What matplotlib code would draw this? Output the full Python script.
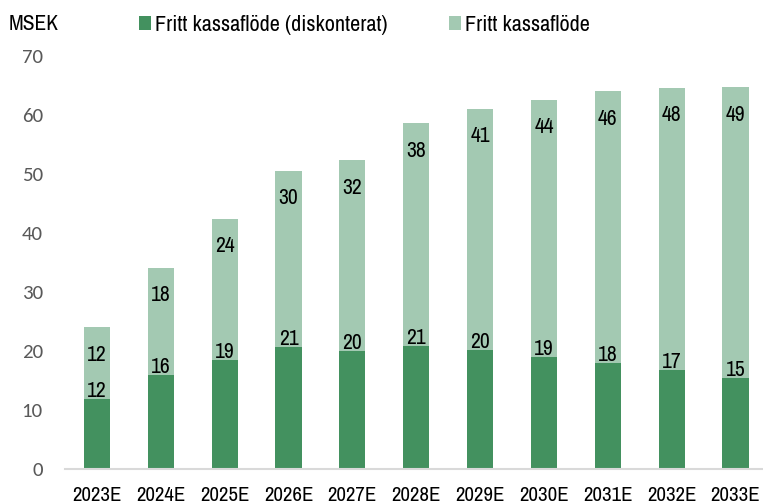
import matplotlib.pyplot as plt
import numpy as np

# Data (MSEK)
years = ['2023E', '2024E', '2025E', '2026E', '2027E', '2028E',
         '2029E', '2030E', '2031E', '2032E', '2033E']
fcf_discounted = [11.9, 15.9, 18.5, 20.7, 20.0, 20.9, 20.2, 19.0, 18.0, 16.8, 15.4]
fcf_rest = [12.1, 18.2, 23.9, 29.8, 32.3, 37.7, 40.8, 43.6, 46.0, 47.8, 49.3]
label_discounted = ['12', '16', '19', '21', '20', '21', '20', '19', '18', '17', '15']
label_rest = ['12', '18', '24', '30', '32', '38', '41', '44', '46', '48', '49']

# Style
dark_green = '#43915F'
light_green = '#A3C9B2'
narrow = ['Archivo Narrow', 'Liberation Sans', 'DejaVu Sans']
calibri = ['Carlito', 'Lato', 'DejaVu Sans']
tick_gray = '#595959'

fig = plt.figure(figsize=(7.63, 5.04), dpi=100)
W, H = 763, 504
ax = fig.add_axes([65 / W, 1 - 469 / H, (767.5 - 65) / W, (469 - 56) / H])

x = np.arange(len(years))
bw = 0.41
ax.bar(x, fcf_discounted, width=bw, color=dark_green, label='Fritt kassaflöde (diskonterat)')
ax.bar(x, fcf_rest, width=bw, bottom=fcf_discounted, color=light_green, label='Fritt kassaflöde')

# Data labels
for i in range(len(years)):
    ax.annotate(label_discounted[i], (x[i], fcf_discounted[i]), xytext=(0, 1.5),
                textcoords='offset points', ha='center', va='baseline',
                fontsize=15.5, family=narrow, color='black')
    top = fcf_discounted[i] + fcf_rest[i]
    ax.annotate(label_rest[i], (x[i], top), xytext=(0, -12.5),
                textcoords='offset points', ha='center', va='top',
                fontsize=15.5, family=narrow, color='black')

ax.set_xlim(-0.5, 10.5)
ax.set_ylim(0, 70)
ax.set_yticks(range(0, 71, 10))
ax.set_xticks(x)
ax.set_xticklabels(years, fontsize=15, family=narrow)
for lbl in ax.get_yticklabels():
    lbl.set_family(calibri)
    lbl.set_fontsize(15)
    lbl.set_color(tick_gray)
ax.tick_params(axis='y', length=0, pad=16)
ax.tick_params(axis='x', length=0, pad=12.5)

for s in ['top', 'right', 'left']:
    ax.spines[s].set_visible(False)
ax.spines['bottom'].set_color('#D9D9D9')
ax.spines['bottom'].set_linewidth(1.5)

fig.text(9 / W, 1 - 24 / H, 'MSEK', fontsize=15.5, family=narrow, va='center', ha='left')
fig.legend(loc='center left', bbox_to_anchor=(139 / W, 1 - 25 / H), ncol=2,
           frameon=False, prop={'family': narrow, 'size': 16},
           handlelength=0.55, handleheight=0.55, handletextpad=0.18,
           columnspacing=2.75, borderpad=0, borderaxespad=0)

fig.savefig('out.png', dpi=100)
